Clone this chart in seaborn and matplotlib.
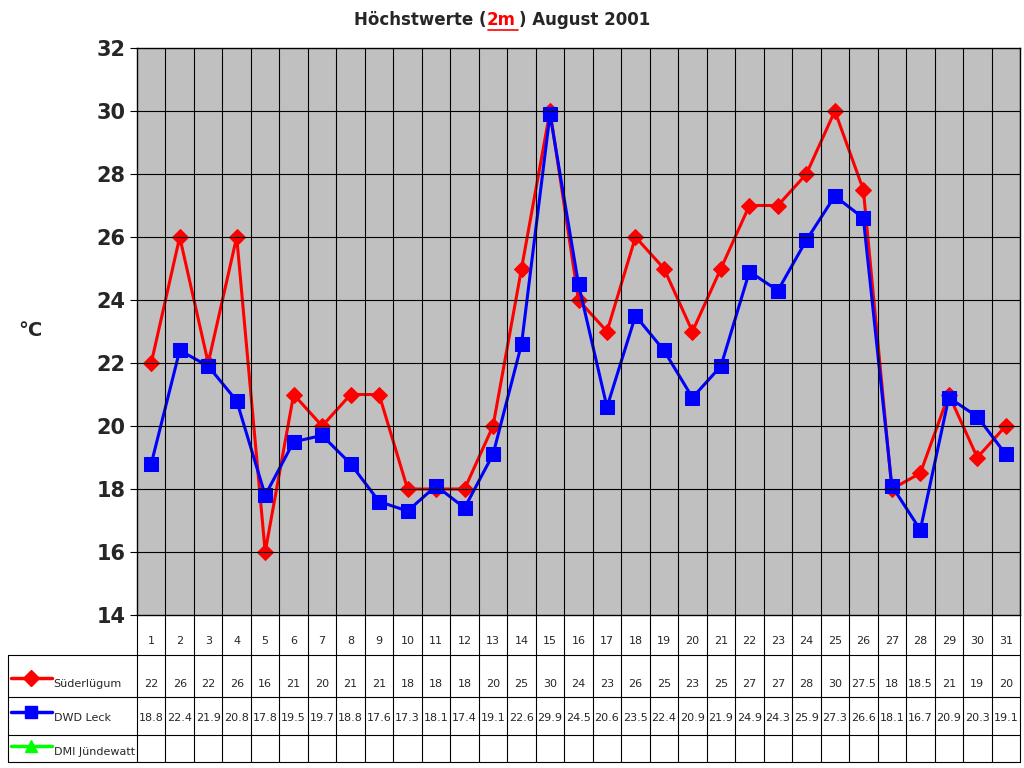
import matplotlib.pyplot as plt
import matplotlib.lines as mlines
import seaborn as sns
import pandas as pd

days = list(range(1, 32))
suederluegum = [22, 26, 22, 26, 16, 21, 20, 21, 21, 18, 18, 18, 20, 25, 30, 24, 23, 26, 25, 23,
                25, 27, 27, 28, 30, 27.5, 18, 18.5, 21, 19, 20]
dwd_leck = [18.8, 22.4, 21.9, 20.8, 17.8, 19.5, 19.7, 18.8, 17.6, 17.3, 18.1, 17.4, 19.1, 22.6,
            29.9, 24.5, 20.6, 23.5, 22.4, 20.9, 21.9, 24.9, 24.3, 25.9, 27.3, 26.6, 18.1, 16.7,
            20.9, 20.3, 19.1]
series_names = ["Süderlügum", "DWD Leck", "DMI Jündewatt"]
colors = ["#FF0000", "#0000FF", "#00FF00"]

df = pd.DataFrame({"day": days * 2,
                   "value": suederluegum + dwd_leck,
                   "station": [series_names[0]] * 31 + [series_names[1]] * 31})

sns.set_style("white")
plt.rcParams["font.family"] = ["DejaVu Sans"]

W, H = 1024, 768
fig = plt.figure(figsize=(10.24, 7.68), dpi=100)
ax = fig.add_axes([137 / W, (H - 615) / H, 883 / W, 567 / H])
ax.set_facecolor("#C0C0C0")

sns.lineplot(data=df[df.station == series_names[0]], x="day", y="value", color=colors[0],
             marker="D", markersize=8, markeredgecolor=colors[0], linewidth=2.2, ax=ax)
sns.lineplot(data=df[df.station == series_names[1]], x="day", y="value", color=colors[1],
             marker="s", markersize=10, markeredgecolor=colors[1], linewidth=2.2, ax=ax)

ax.set_xlim(0.5, 31.5)
ax.set_ylim(14, 32)
ax.set_yticks(range(14, 33, 2))
ax.set_yticklabels([str(v) for v in range(14, 33, 2)], fontsize=15, fontweight="bold")
ax.set_xticks([])
ax.set_xlabel("")
ax.set_ylabel("")
for y in range(16, 32, 2):
    ax.axhline(y, color="black", lw=0.8)
for x in range(1, 32):
    ax.axvline(x + 0.5, color="black", lw=0.8)
for s in ax.spines.values():
    s.set_color("black")
    s.set_linewidth(1)
ax.tick_params(axis="y", length=5, color="black", left=True)
fig.text(18 / W, 1 - 330 / H, "°C", fontsize=14, fontweight="bold", va="center")

# data table
tb = fig.add_axes([137 / W, (H - 762) / H, 883 / W, 147 / H])
tb.set_xlim(0.5, 31.5)
tb.set_ylim(762, 615)
tb.axis("off")
left = 0.5 - 129 / 28.48
for y in [655, 697, 735, 762]:
    tb.plot([left, 31.5], [y, y], color="black", lw=0.8, clip_on=False)
for x in range(0, 32):
    tb.plot([x + 0.5, x + 0.5], [615, 762], color="black", lw=0.8, clip_on=False)
tb.plot([left, left], [655, 762], color="black", lw=0.8, clip_on=False)
for d in days:
    tb.text(d, 641, str(d), ha="center", va="center", fontsize=8)
    tb.text(d, 684, f"{suederluegum[d - 1]:g}", ha="center", va="center", fontsize=8)
    tb.text(d, 718, f"{dwd_leck[d - 1]:g}", ha="center", va="center", fontsize=8)
rows_y = [684, 718, 752]
markers = ["D", "s", "^"]
for name, c, m, y in zip(series_names, colors, markers, rows_y):
    tb.plot([left + 0.1, left + 1.55], [y - 6, y - 6], color=c, lw=2.5, clip_on=False)
    tb.plot([left + 0.82], [y - 6], marker=m, color=c, markersize=8, clip_on=False)
    tb.text(left + 1.6, y, name, ha="left", va="center", fontsize=8)

# title
ty = 1 - 20 / H
fig.text(487 / W, ty, "Höchstwerte (", ha="right", va="center", fontsize=12, fontweight="bold")
fig.text(487 / W, ty, "2m", ha="left", va="center", fontsize=12, fontweight="bold", color="red")
fig.text(519 / W, ty, ") August 2001", ha="left", va="center", fontsize=12, fontweight="bold")
fig.add_artist(mlines.Line2D([488 / W, 518 / W], [1 - 30 / H, 1 - 30 / H], color="red", lw=1.2))

fig.savefig("out.png", dpi=100)
